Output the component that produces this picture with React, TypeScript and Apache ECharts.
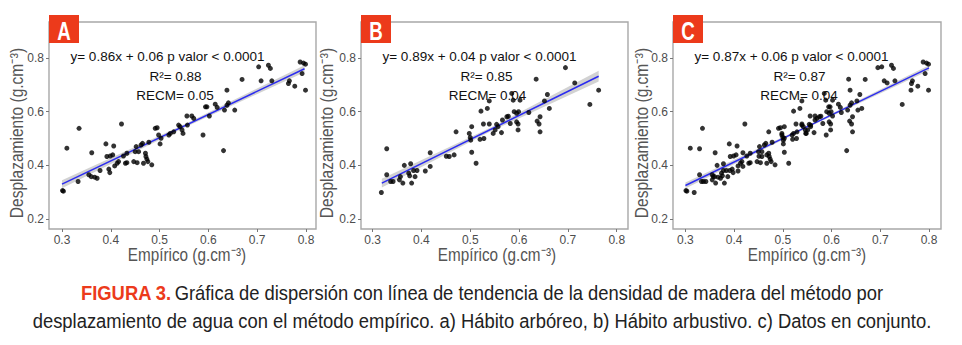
import React, { useEffect, useRef } from "react";
import * as echarts from "echarts";

// ---- Data ----
const xTickValues = [0.3, 0.4, 0.5, 0.6, 0.7, 0.8];
const yTickValues = [0.2, 0.4, 0.6, 0.8];

// Panel A: Hábito arbóreo
const pointsA: number[][] = [
  [0.301, 0.306], [0.303, 0.304], [0.310, 0.464], [0.333, 0.340], [0.335, 0.538],
  [0.355, 0.365], [0.360, 0.358], [0.361, 0.447], [0.367, 0.356], [0.372, 0.352],
  [0.378, 0.381], [0.390, 0.480], [0.392, 0.433], [0.396, 0.386], [0.398, 0.373],
  [0.399, 0.435], [0.404, 0.439], [0.406, 0.472], [0.408, 0.398], [0.413, 0.408],
  [0.416, 0.414], [0.422, 0.554], [0.426, 0.435], [0.430, 0.408], [0.433, 0.445],
  [0.433, 0.410], [0.447, 0.414], [0.450, 0.451], [0.452, 0.470], [0.454, 0.410],
  [0.457, 0.451], [0.462, 0.476], [0.465, 0.482], [0.467, 0.408], [0.471, 0.445],
  [0.472, 0.433], [0.474, 0.423], [0.476, 0.414], [0.478, 0.486], [0.484, 0.402],
  [0.491, 0.538], [0.495, 0.540], [0.498, 0.513], [0.501, 0.480], [0.503, 0.501],
  [0.519, 0.513], [0.522, 0.519], [0.529, 0.525], [0.539, 0.550], [0.542, 0.544],
  [0.546, 0.532], [0.548, 0.519], [0.556, 0.584], [0.557, 0.550], [0.566, 0.584],
  [0.570, 0.575], [0.589, 0.513], [0.594, 0.618], [0.597, 0.618], [0.602, 0.584],
  [0.614, 0.628], [0.618, 0.616], [0.631, 0.455], [0.633, 0.606], [0.638, 0.680],
  [0.638, 0.624], [0.641, 0.633], [0.654, 0.606], [0.669, 0.720], [0.703, 0.767],
  [0.708, 0.715], [0.723, 0.773], [0.727, 0.761], [0.730, 0.715], [0.764, 0.705],
  [0.766, 0.715], [0.777, 0.695], [0.788, 0.785], [0.792, 0.742], [0.795, 0.781],
  [0.799, 0.777], [0.799, 0.680],
];

// Panel B: Hábito arbustivo
const pointsB: number[][] = [
  [0.318, 0.299], [0.329, 0.462], [0.329, 0.365], [0.337, 0.340], [0.342, 0.340],
  [0.355, 0.346], [0.357, 0.358], [0.362, 0.334], [0.365, 0.400], [0.374, 0.371],
  [0.376, 0.361], [0.378, 0.406], [0.380, 0.334], [0.384, 0.381], [0.387, 0.358],
  [0.391, 0.381], [0.408, 0.379], [0.418, 0.447], [0.418, 0.396], [0.451, 0.434],
  [0.457, 0.433], [0.467, 0.439], [0.471, 0.525], [0.498, 0.519], [0.500, 0.504],
  [0.501, 0.494], [0.503, 0.544], [0.503, 0.449], [0.512, 0.408], [0.520, 0.497],
  [0.522, 0.602], [0.527, 0.554], [0.528, 0.500], [0.535, 0.612], [0.539, 0.640],
  [0.539, 0.554], [0.547, 0.519], [0.551, 0.532], [0.554, 0.553], [0.557, 0.544],
  [0.564, 0.522], [0.566, 0.569], [0.575, 0.581], [0.578, 0.583], [0.582, 0.556],
  [0.585, 0.668], [0.588, 0.643], [0.590, 0.600], [0.595, 0.594], [0.599, 0.600],
  [0.595, 0.562], [0.598, 0.554], [0.598, 0.532], [0.602, 0.643], [0.620, 0.597],
  [0.635, 0.721], [0.637, 0.565], [0.641, 0.554], [0.643, 0.581], [0.643, 0.525],
  [0.652, 0.640], [0.658, 0.664], [0.662, 0.612], [0.695, 0.764], [0.714, 0.707],
  [0.745, 0.627], [0.763, 0.680],
];

// Panel C: Datos en conjunto (both groups together)
const pointsC: number[][] = [...pointsA, ...pointsB];

// Fitted lines (end points) and confidence bands [x, lower, upper]
const lineA = [[0.300, 0.330], [0.797, 0.760]];
const lineB = [[0.319, 0.334], [0.763, 0.732]];
const lineC = [[0.300, 0.325], [0.800, 0.763]];
const bandA = [[0.300, 0.315, 0.345], [0.550, 0.540, 0.552], [0.797, 0.747, 0.773]];
const bandB = [[0.319, 0.318, 0.350], [0.540, 0.525, 0.539], [0.763, 0.712, 0.752]];
const bandC = [[0.300, 0.314, 0.336], [0.550, 0.540, 0.548], [0.800, 0.753, 0.773]];

const panelLetters = ["A", "B", "C"];
const equations = [
  "y= 0.86x + 0.06 p valor < 0.0001",
  "y= 0.89x + 0.04 p valor < 0.0001",
  "y= 0.87x + 0.06 p valor < 0.0001",
];
const r2Labels = ["R²= 0.88", "R²= 0.85", "R²= 0.87"];
const recmLabels = ["RECM= 0.05", "RECM= 0.04", "RECM= 0.04"];
const xTitle = "Empírico (g.cm⁻³)";
const yTitle = "Desplazamiento (g.cm⁻³)";
const captionBold = "FIGURA 3.";
const captionLine1 = "Gráfica de dispersión con línea de tendencia de la densidad de madera del método por";
const captionLine2 =
  "desplazamiento de agua con el método empírico. a) Hábito arbóreo, b) Hábito arbustivo. c) Datos en conjunto.";

// ---- Layout ----
const SANS = "'Liberation Sans', Arial, sans-serif";
const ORANGE = "#ec3a1b";

const grids = [
  { left: 49, top: 22, width: 267, height: 207, xMin: 0.2734, xMax: 0.8205, cx: 187, eqX: 167.5, r2X: 175.5, reX: 175, yT: 17.5 },
  { left: 361, top: 22, width: 267, height: 207, xMin: 0.2763, xMax: 0.8231, cx: 497, eqX: 479.5, r2X: 486.5, reX: 487.5, yT: 327.5 },
  { left: 673, top: 22, width: 268, height: 207, xMin: 0.2745, xMax: 0.8246, cx: 807, eqX: 791.5, r2X: 799.5, reX: 799, yT: 642 },
];
const yMin = 0.163;
const yMax = 0.934;

function measure(text: string, font: string): number {
  const c = document.createElement("canvas");
  const ctx = c.getContext("2d");
  if (!ctx) return text.length * 8;
  ctx.font = font;
  return ctx.measureText(text).width;
}

export default function App() {
  const ref = useRef<HTMLDivElement>(null);

  useEffect(() => {
    document.body.style.margin = "0";
    if (!ref.current) return;
    const chart = echarts.init(ref.current, null, { renderer: "svg" });

    const pointSets = [pointsA, pointsB, pointsC];
    const lines = [lineA, lineB, lineC];
    const bands = [bandA, bandB, bandC];

    const series: any[] = [];
    pointSets.forEach((pts, i) => {
      const band = bands[i];
      series.push({
        type: "custom",
        xAxisIndex: i,
        yAxisIndex: i,
        silent: true,
        z: 1,
        data: band,
        renderItem: (params: any, api: any) => {
          if (params.dataIndex !== 0) return null;
          const upper = band.map((r) => api.coord([r[0], r[2]]));
          const lower = band.map((r) => api.coord([r[0], r[1]])).reverse();
          return {
            type: "polygon",
            shape: { points: [...upper, ...lower] },
            style: { fill: "rgba(165,165,165,0.5)", stroke: "none" },
          };
        },
      });
      series.push({
        type: "line",
        xAxisIndex: i,
        yAxisIndex: i,
        data: lines[i],
        symbol: "none",
        z: 2,
        lineStyle: { color: "#2c2cf0", width: 1.5 },
      });
      series.push({
        type: "scatter",
        xAxisIndex: i,
        yAxisIndex: i,
        data: pts,
        symbol: "circle",
        symbolSize: 5,
        z: 3,
        itemStyle: { color: "#000" },
      });
    });

    // condensed look: horizontally scaled sans text
    const titleFont = `18px ${SANS}`;
    const xTitleScale = 118 / measure(xTitle, titleFont);
    const yTitleScale = 170 / measure(yTitle, titleFont);
    const letterFont = `bold 26px ${SANS}`;

    const capFontB = `bold 21px ${SANS}`;
    const capFontN = `21px ${SANS}`;
    const w1 = measure(captionBold + " ", capFontB) + measure(captionLine1, capFontN);
    const cap1Scale = 805 / w1;
    const cap2Scale = 899 / measure(captionLine2, capFontN);

    const graphic: any[] = [];
    grids.forEach((g, i) => {
      graphic.push({
        type: "rect",
        shape: { x: g.left, y: 15, width: 30, height: 28 },
        style: { fill: ORANGE },
        z: 10,
      });
      graphic.push({
        type: "text",
        x: g.left + 15,
        y: 31,
        scaleX: 0.72,
        z: 11,
        style: {
          text: panelLetters[i],
          fill: "#fff",
          font: letterFont,
          align: "center",
          verticalAlign: "middle",
        },
      });
      graphic.push({
        type: "text",
        x: g.eqX,
        y: 56,
        z: 1,
        style: { text: equations[i], fill: "#111", font: `13.5px ${SANS}`, align: "center", verticalAlign: "middle" },
      });
      graphic.push({
        type: "text",
        x: g.r2X,
        y: 76,
        z: 1,
        style: { text: r2Labels[i], fill: "#111", font: `13.5px ${SANS}`, align: "center", verticalAlign: "middle" },
      });
      graphic.push({
        type: "text",
        x: g.reX,
        y: 95,
        z: 1,
        style: { text: recmLabels[i], fill: "#111", font: `13.5px ${SANS}`, align: "center", verticalAlign: "middle" },
      });
      graphic.push({
        type: "text",
        x: g.cx,
        y: 255,
        scaleX: xTitleScale,
        style: { text: xTitle, fill: "#555", font: titleFont, align: "center", verticalAlign: "middle" },
      });
      graphic.push({
        type: "text",
        x: g.yT,
        y: 133,
        rotation: Math.PI / 2,
        scaleX: yTitleScale,
        style: { text: yTitle, fill: "#555", font: titleFont, align: "center", verticalAlign: "middle" },
      });
    });
    graphic.push({
      type: "text",
      x: 482,
      y: 293,
      scaleX: cap1Scale,
      style: {
        text: `{r|${captionBold}} {n|${captionLine1}}`,
        align: "center",
        verticalAlign: "middle",
        rich: {
          r: { fill: ORANGE, font: capFontB },
          n: { fill: "#222", font: capFontN },
        },
      },
    });
    graphic.push({
      type: "text",
      x: 482,
      y: 321,
      scaleX: cap2Scale,
      style: {
        text: captionLine2,
        fill: "#222",
        font: capFontN,
        align: "center",
        verticalAlign: "middle",
      },
    });

    chart.setOption({
      animation: false,
      backgroundColor: "#fff",
      grid: grids.map((g) => ({
        left: g.left,
        top: g.top,
        width: g.width,
        height: g.height,
        show: true,
        borderColor: "#a8a8a8",
        borderWidth: 1.4,
        backgroundColor: "transparent",
      })),
      xAxis: grids.map((g, i) => ({
        type: "value",
        gridIndex: i,
        min: g.xMin,
        max: g.xMax,
        axisLine: { show: false },
        splitLine: { show: false },
        axisTick: { show: true, customValues: xTickValues, length: 3, lineStyle: { color: "#777" } },
        axisLabel: {
          customValues: xTickValues,
          formatter: (v: number) => v.toFixed(1),
          color: "#4d4d4d",
          fontSize: 12,
          fontFamily: SANS,
          margin: 5,
        },
      })),
      yAxis: grids.map((g, i) => ({
        type: "value",
        gridIndex: i,
        min: yMin,
        max: yMax,
        axisLine: { show: false },
        splitLine: { show: false },
        axisTick: { show: true, customValues: yTickValues, length: 3, lineStyle: { color: "#777" } },
        axisLabel: {
          customValues: yTickValues,
          formatter: (v: number) => v.toFixed(1),
          color: "#4d4d4d",
          fontSize: 12,
          fontFamily: SANS,
          margin: 5,
        },
      })),
      series,
      graphic,
    });

    return () => chart.dispose();
  }, []);

  return <div ref={ref} style={{ width: 962, height: 345 }} />;
}
